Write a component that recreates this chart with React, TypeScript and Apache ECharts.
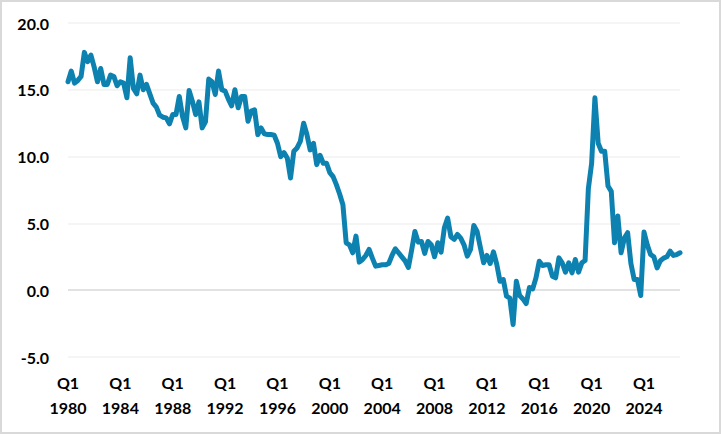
import React, { useEffect, useRef } from "react";
import * as echarts from "echarts";

const startYear = 1980;
const labelEveryYears = 4;
const yTicks = { min: -5, max: 20, interval: 5 };

const values: number[] = [
  15.6, 16.4, 15.5, 15.7, 16.0, 17.8, 17.1, 17.6, 16.7, 15.6,
  16.6, 15.4, 15.4, 16.1, 16.0, 15.3, 15.6, 15.5, 14.4, 17.4,
  15.1, 14.7, 16.1, 15.0, 15.4, 14.7, 14.0, 13.7, 13.1, 12.95,
  12.9, 12.45, 13.15, 13.15, 14.5, 13.0, 12.15, 14.95, 14.15, 13.15,
  14.1, 12.15, 12.6, 15.8, 15.6, 14.65, 16.4, 15.0, 14.9, 14.3,
  13.8, 15.0, 13.65, 14.5, 14.5, 12.65, 13.4, 13.5, 11.65, 12.15,
  11.7, 11.65, 11.65, 11.6, 11.0, 10.0, 10.3, 9.9, 8.4, 10.4,
  10.65, 11.15, 12.5, 11.65, 10.5, 11.0, 9.4, 10.1, 9.5, 9.5,
  8.8, 8.5, 7.9, 7.2, 6.4, 3.55, 3.4, 2.8, 4.05, 2.1,
  2.3, 2.6, 3.05, 2.4, 1.8, 1.85, 1.9, 1.9, 2.0, 2.6,
  3.1, 2.8, 2.5, 2.2, 1.7, 3.0, 4.4, 3.6, 3.65, 2.75,
  3.65, 3.4, 2.5, 3.55, 2.85, 4.67, 5.4, 4.0, 3.8, 4.17,
  3.9, 3.4, 2.55, 3.05, 4.85, 4.4, 3.2, 2.05, 2.6, 2.0,
  2.87, 1.95, 0.67, 0.8, -0.45, -0.6, -2.57, 0.67, -0.4, -0.65,
  -1.0, 0.2, 0.1, 0.93, 2.17, 1.85, 1.9, 1.9, 1.05, 0.93,
  2.42, 2.05, 1.35, 2.05, 1.3, 2.3, 1.35, 2.05, 2.22, 7.6,
  9.5, 14.4, 11.0, 10.4, 10.4, 7.8, 7.4, 3.55, 5.55, 2.8,
  3.9, 4.3, 2.0, 0.8, 0.8, -0.4, 4.35, 3.4, 2.67, 2.5,
  1.67, 2.2, 2.4, 2.5, 2.92, 2.6, 2.67, 2.8,
];

const categories: string[] = values.map((_, i) => {
  const year = startYear + Math.floor(i / 4);
  return `Q${(i % 4) + 1}\n${year}`;
});

export default function App() {
  const ref = useRef<HTMLDivElement>(null);

  useEffect(() => {
    document.body.style.margin = "0";
    if (!ref.current) return;
    const chart = echarts.init(ref.current, undefined, { renderer: "svg" });
    const font = "Lato, 'Open Sans', sans-serif";
    chart.setOption({
      animation: false,
      backgroundColor: "#ffffff",
      grid: { left: 68, right: 41, top: 23, bottom: 77, containLabel: false },
      graphic: [
        {
          type: "rect",
          shape: { x: 1, y: 1, width: 719, height: 432 },
          style: { fill: "none", stroke: "#d9d9d9", lineWidth: 2 },
          silent: true,
        },
      ],
      xAxis: {
        type: "category",
        data: categories,
        boundaryGap: false,
        axisLine: { show: false, onZero: false },
        axisTick: { show: false },
        splitLine: { show: false },
        axisLabel: {
          interval: (idx: number) => idx % (labelEveryYears * 4) === 0,
          color: "#000",
          fontFamily: font,
          fontWeight: "bold",
          fontSize: 16,
          lineHeight: 25,
          margin: 13,
        },
      },
      yAxis: {
        type: "value",
        min: yTicks.min,
        max: yTicks.max,
        interval: yTicks.interval,
        axisLine: { show: false },
        axisTick: { show: false },
        splitLine: {
          show: true,
          lineStyle: {
            color: ["#f2f2f2", "#d9d9d9", "#f2f2f2", "#f2f2f2", "#f2f2f2", "#f2f2f2"],
            width: 1.5,
          },
        },
        axisLabel: {
          formatter: (v: number) => v.toFixed(1),
          color: "#000",
          fontFamily: font,
          fontWeight: "bold",
          fontSize: 16,
          margin: 19,
        },
      },
      series: [
        {
          type: "line",
          data: values,
          showSymbol: false,
          symbol: "none",
          lineStyle: { color: "#0d82b1", width: 5, join: "round", cap: "round" },
          itemStyle: { color: "#0d82b1" },
        },
      ],
    });
    return () => chart.dispose();
  }, []);

  return <div ref={ref} style={{ width: 721, height: 434 }} />;
}
